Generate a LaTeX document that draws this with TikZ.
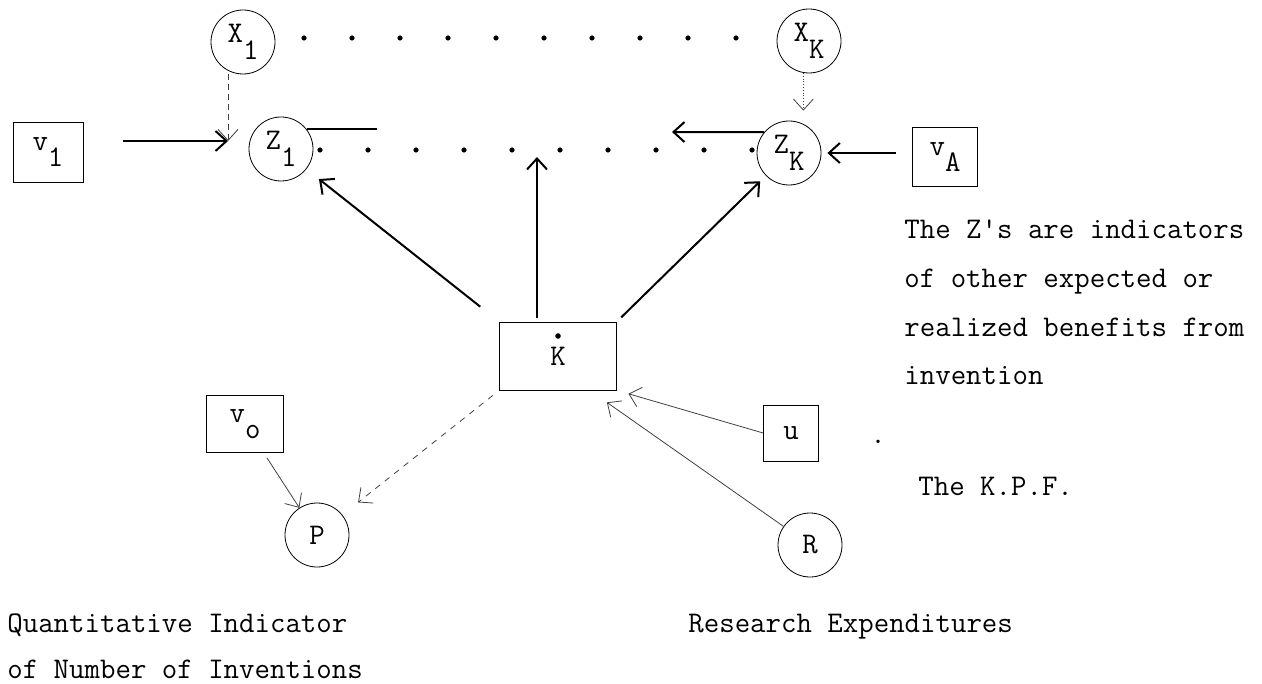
\documentclass[tikz,border=0pt]{standalone}
\usepackage{fontspec}
\usetikzlibrary{arrows.meta,calc}

% typed subscripts: same size, dropped half a line
\newcommand{\lowsub}[1]{\raisebox{-0.55em}{#1}}
\newcommand{\typed}{\ttfamily\fontsize{15}{18}\selectfont}

\tikzset{
  >={Straight Barb[length=5.5pt,width=10pt]},
  var/.style={circle, draw, thin, inner sep=0pt, minimum size=32pt, font=\typed},
  obs/.style={draw, thin, inner sep=0pt, font=\typed},
  heavy/.style={->, line width=1pt},
  weak/.style={->, thin, black!75},
  note/.style={anchor=base west, inner sep=0pt, font=\typed}
}

\begin{document}
\begin{tikzpicture}[x=0.5pt,y=-0.5pt]
  \useasboundingbox (0,0) rectangle (1262,684);

  % top row: the X's
  \node[var] (X1) at (243,42) {X\lowsub{1}};
  \node[var] (XK) at (809,41) {X\lowsub{K}};
  \foreach \i in {0,...,9}
    \fill (304+48*\i,38) circle[radius=1.3pt];

  % second row: the Z's
  \node[var] (Z1) at (281,149) {Z\lowsub{1}};
  \node[var] (ZK) at (789,153) {Z\lowsub{K}};
  \foreach \i in {0,...,9}
    \fill (320+48*\i,150) circle[radius=1.3pt];

  % boxes
  \node[obs, minimum width=35pt, minimum height=30pt] (v1) at (48,152) {v\lowsub{1}};
  \node[obs, minimum width=32.5pt, minimum height=29.5pt] (vA) at (945,157) {v\lowsub{A}};
  \node[obs, minimum width=58.5pt, minimum height=34pt] (K) at (558,356) {K};
  \fill ($(K.center)+(0,-20)$) circle[radius=1.4pt]; % the time dot over K
  \node[obs, minimum width=38.5pt, minimum height=28.5pt] (vo) at (245,424) {v\lowsub{o}};
  \node[obs, minimum width=27.5pt, minimum height=28pt] (u) at (791,433) {u};

  % bottom circles
  \node[var] (P) at (317,535) {P};
  \node[var] (R) at (810,545) {R};

  % free ends
  \coordinate (Z1in) at (228,141);
  \coordinate (Z1end) at (377,128);
  \coordinate (ZKend) at (672,132);
  \coordinate (Zmid) at (537,157);

  % into Z1
  \draw[heavy, shorten <=20pt] (v1.east |- Z1in) -- (Z1in);
  \draw[weak, densely dashed] (X1.south -| Z1in) -- (Z1in);
  \draw[line width=1pt] (Z1.38) -- (Z1.38 -| Z1end);

  % into ZK
  \draw[weak, densely dotted, shorten >=5pt] (XK.260) -- (XK.260 |- ZK.north);
  \draw[heavy, shorten <=8pt, shorten >=3pt] (vA.west |- ZK.east) -- (ZK.east);
  \draw[heavy] (ZK.140) -- (ZKend);

  % out of K
  \draw[heavy, shorten <=12pt, shorten >=8pt] (K.north west) -- (Z1);
  \draw[heavy, shorten <=2pt] (K.north -| Zmid) -- (Zmid);
  \draw[heavy, shorten <=3pt, shorten >=4pt] (K.north east) -- (ZK);
  \draw[weak, dashed, shorten <=4pt, shorten >=10pt] (K.south west) -- (P);

  % into K and P
  \draw[weak, shorten >=6pt] (u.west) -- (K.south east);
  \draw[weak] (R) -- ($(K.south east)+(-10,12)$);
  \draw[weak, shorten <=3pt] (vo) -- (P);

  % notes
  \node[note] (note1) at (904,238) {The Z's are indicators};
  \node[note] (note2) at (904,287) {of other expected or};
  \node[note] (note3) at (904,336) {realized benefits from};
  \node[note] (note4) at (904,384) {invention};
  \node[note] (stop) at (870,443) {.};
  \node[note] (kpf) at (918,495) {The K.P.F.};
  \node[note] (pname1) at (7,632) {Quantitative Indicator};
  \node[note] (pname2) at (7,678) {of Number of Inventions};
  \node[note] (rname) at (688,632) {Research Expenditures};
\end{tikzpicture}
\end{document}
